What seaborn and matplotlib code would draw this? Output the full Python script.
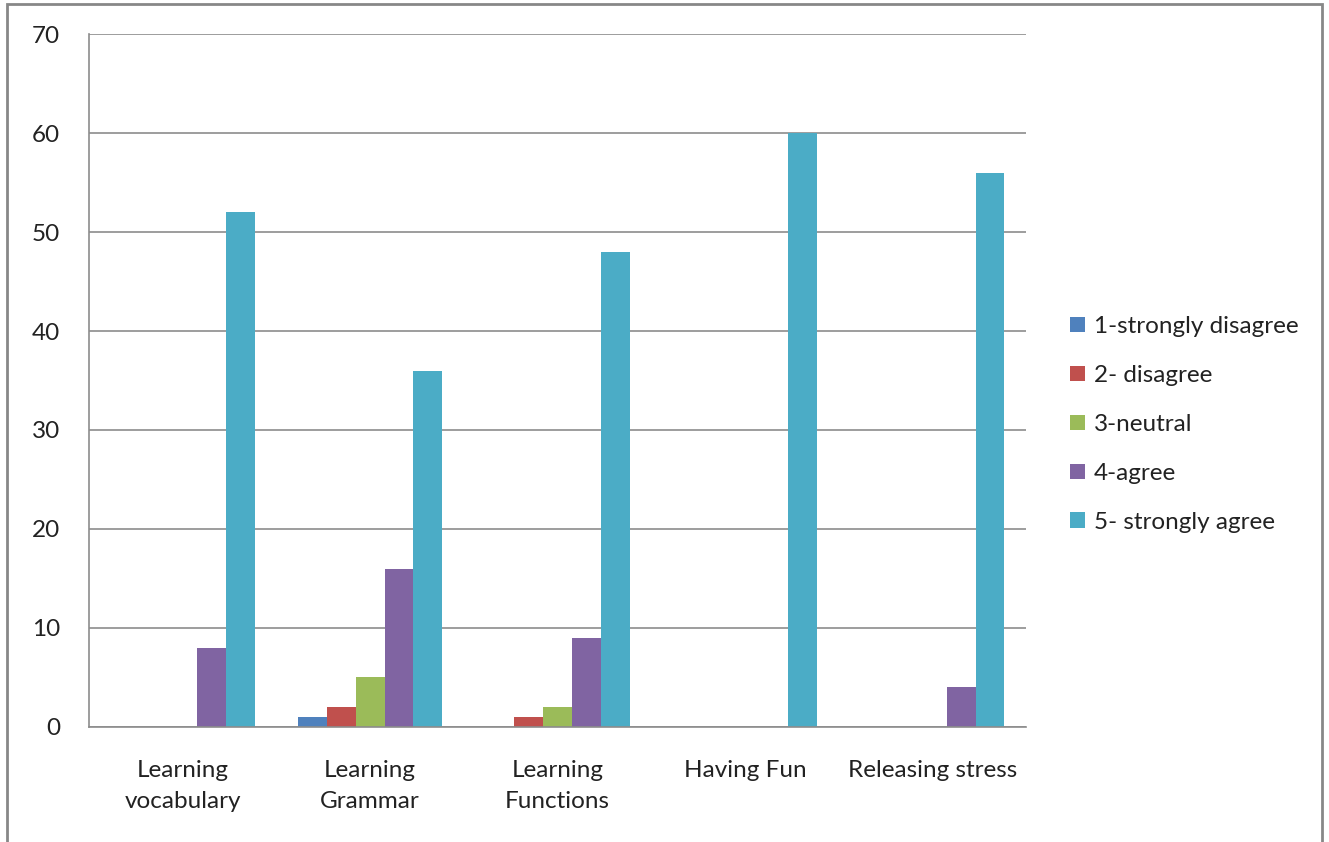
import pandas as pd
import numpy as np
import matplotlib.pyplot as plt
import seaborn as sns
from matplotlib.patches import Rectangle

# Categorias e respostas
categorias = ['Learning\nvocabulary', 'Learning\nGrammar', 'Learning\nFunctions',
              'Having Fun', 'Releasing stress']
respostas = ['1-strongly disagree', '2- disagree', '3-neutral', '4-agree', '5- strongly agree']

# Valores por resposta (um valor por categoria)
discordo_totalmente = [0, 1, 0, 0, 0]
discordo = [0, 2, 1, 0, 0]
neutro = [0, 5, 2, 0, 0]
concordo = [8, 16, 9, 0, 4]
concordo_totalmente = [52, 36, 48, 60, 56]

cores = ['#4F81BD', '#C0504D', '#9BBB59', '#8064A2', '#4BACC6']

series = [discordo_totalmente, discordo, neutro, concordo, concordo_totalmente]
registros = []
for resp, vals in zip(respostas, series):
    for cat, v in zip(categorias, vals):
        registros.append({'categoria': cat, 'resposta': resp, 'valor': v})
df = pd.DataFrame(registros)

sns.set_style('white')
plt.rcParams['font.family'] = ['Lato', 'DejaVu Sans']

fig = plt.figure(figsize=(13.29, 8.42), dpi=100)
ax = fig.add_axes([0.067, 0.1366, 0.705, 0.823])

sns.barplot(data=df, x='categoria', y='valor', hue='resposta', order=categorias,
            hue_order=respostas, palette=cores, saturation=1, width=0.77, gap=0,
            linewidth=0, ax=ax)

grid_cor = '#8c8c8c'
texto_cor = '#222222'
fs = 17.5
ax.set_ylim(0, 70)
ax.set_xlim(-0.5, len(categorias) - 0.5)
ax.set_yticks(range(0, 71, 10))
ax.yaxis.grid(True, color=grid_cor, linewidth=1.2)
ax.set_axisbelow(True)
ax.set_xlabel('')
ax.set_ylabel('')

for s in ['top', 'right']:
    ax.spines[s].set_visible(False)
for s in ['left', 'bottom']:
    ax.spines[s].set_color(grid_cor)
    ax.spines[s].set_linewidth(1.2)

ax.tick_params(axis='y', length=11, color=grid_cor, width=1.2, labelsize=fs,
               labelcolor=texto_cor, pad=10)
ax.tick_params(axis='x', which='major', length=0, labelsize=fs,
               labelcolor=texto_cor, pad=24)
ax.set_xticks(np.arange(-0.5, len(categorias), 1.0), minor=True)
ax.tick_params(axis='x', which='minor', length=10, color=grid_cor, width=1.2)
for lbl in ax.get_xticklabels():
    lbl.set_linespacing(1.55)

# Legenda à direita
handles, labels = ax.get_legend_handles_labels()
ax.legend(handles, labels, loc='center left', bbox_to_anchor=(0.789, 0.496),
          bbox_transform=fig.transFigure, frameon=False, fontsize=fs,
          handlelength=0.6, handleheight=0.6, handletextpad=0.35,
          labelspacing=1.15, labelcolor=texto_cor)

# Borda externa do gráfico
fig.patches.append(Rectangle((0.0053, -0.05), 0.9894, 1.045, transform=fig.transFigure,
                             fill=False, edgecolor='#878787', linewidth=2))

plt.savefig('out.png', dpi=100)
